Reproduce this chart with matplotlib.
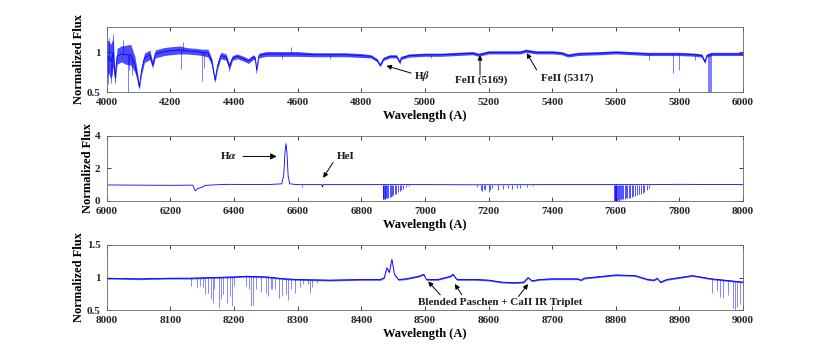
import numpy as np
import matplotlib
matplotlib.use("Agg")
import matplotlib.pyplot as plt

plt.rcParams['font.family'] = ['Liberation Serif', 'DejaVu Serif']
plt.rcParams['font.weight'] = 'bold'
plt.rcParams['mathtext.fontset'] = 'stix'

# ---- panel 1 : 4000-6000 A (wavelength, flux, half width of noise band)
wl1 = [4000, 4005, 4012, 4020, 4026, 4032, 4045, 4060, 4075, 4088, 4095, 4102, 4108,
       4118, 4135, 4144, 4152, 4180, 4200, 4230, 4250, 4280, 4300, 4318, 4330, 4340,
       4348, 4358, 4375, 4385, 4395, 4410, 4430, 4445, 4460, 4466, 4471, 4478, 4500,
       4550, 4600, 4650, 4700, 4750, 4800, 4830, 4850, 4858, 4862, 4870, 4890, 4910,
       4918, 4921, 4925, 4950, 5000, 5050, 5100, 5150, 5169, 5200, 5250, 5300, 5317,
       5350, 5400, 5430, 5450, 5480, 5550, 5600, 5650, 5700, 5750, 5800, 5850, 5870,
       5880, 5886, 5900, 5950, 6000]
fx1 = [0.90, 0.95, 0.88, 1.00, 0.68, 0.95, 0.98, 0.97, 0.97, 0.85, 0.72, 0.56, 0.75,
       0.93, 0.97, 0.84, 0.98, 1.01, 1.02, 1.03, 1.02, 1.01, 1.00, 0.99, 0.88, 0.65,
       0.83, 0.96, 0.94, 0.82, 0.93, 0.95, 0.92, 0.89, 0.94, 0.93, 0.78, 0.96, 0.98,
       0.98, 0.98, 0.97, 0.97, 0.97, 0.96, 0.95, 0.90, 0.84, 0.86, 0.92, 0.95, 0.95,
       0.90, 0.87, 0.93, 0.96, 0.97, 0.97, 0.98, 0.99, 0.97, 1.00, 1.00, 1.00, 1.02,
       1.00, 1.00, 0.99, 0.96, 0.98, 0.99, 1.00, 0.99, 0.98, 0.98, 0.98, 0.97, 0.96,
       0.88, 0.96, 0.98, 0.98, 0.98]
sp1 = [0.25, 0.20, 0.22, 0.18, 0.06, 0.10, 0.10, 0.12, 0.13, 0.10, 0.06, 0.03, 0.05,
       0.06, 0.06, 0.04, 0.05, 0.05, 0.05, 0.05, 0.04, 0.04, 0.04, 0.05, 0.04, 0.03,
       0.04, 0.04, 0.04, 0.04, 0.03, 0.03, 0.03, 0.03, 0.03, 0.02, 0.02, 0.03, 0.03,
       0.03, 0.03, 0.025, 0.025, 0.025, 0.025, 0.02, 0.02, 0.02, 0.02, 0.02, 0.02, 0.02,
       0.02, 0.02, 0.02, 0.02, 0.02, 0.02, 0.02, 0.02, 0.02, 0.02, 0.02, 0.02, 0.02,
       0.02, 0.02, 0.02, 0.02, 0.02, 0.02, 0.02, 0.02, 0.02, 0.02, 0.02, 0.02, 0.02,
       0.02, 0.02, 0.02, 0.02, 0.02]
# narrow features: wavelength, extreme flux
ln1_wl = [4003, 4008, 4012, 4017, 4020, 4026, 4050, 4065, 4070, 4080, 4232, 4240, 4300,
          4306, 4385, 4470, 4580, 4550, 4703, 5018, 5705, 5780, 5797, 5850, 5891, 5893,
          5896, 5898]
ln1_fx = [0.60, 1.18, 0.62, 0.70, 1.23, 0.62, 1.16, 0.50, 0.78, 0.72, 0.79, 1.13, 0.64,
          0.80, 0.77, 0.74, 1.07, 0.92, 0.92, 0.93, 0.90, 0.74, 0.78, 0.90, 0.30, 0.30,
          0.30, 0.30]

# ---- panel 2 : 6000-8000 A
wl2 = [6000, 6200, 6270, 6278, 6285, 6300, 6310, 6380, 6500, 6550, 6556, 6560, 6563,
       6566, 6570, 6575, 6600, 6676, 6678, 6680, 6860, 7000, 7150, 7400, 7590, 7710,
       7800, 8000]
fx2 = [0.98, 0.96, 0.97, 0.62, 0.75, 0.85, 0.96, 1.02, 1.00, 1.05, 1.60, 3.00, 3.52,
       3.00, 1.50, 1.05, 1.00, 1.00, 0.85, 1.00, 1.00, 1.00, 0.99, 1.00, 1.00, 1.00,
       1.02, 1.00]
ln2_wl = [6867, 6869, 6871, 6873, 6875, 6878, 6882, 6885, 6889, 6892, 6896, 6900, 6905,
          6910, 6915, 6920, 6926, 6932, 6940, 6950, 7165, 7175, 7180, 7185, 7190, 7200,
          7205, 7212, 7230, 7245, 7260, 7275, 7290, 7300, 7320, 7340, 7594, 7596, 7598,
          7600, 7602, 7604, 7606, 7609, 7612, 7616, 7620, 7624, 7628, 7632, 7636, 7640,
          7645, 7650, 7655, 7660, 7666, 7672, 7678, 7684, 7690, 7697, 7705, 6614]
ln2_fx = [0.10, 0.10, 0.10, 0.12, 0.12, 0.15, 0.15, 0.20, 0.22, 0.25, 0.30, 0.35, 0.40,
          0.45, 0.55, 0.60, 0.70, 0.75, 0.85, 0.90, 0.85, 0.70, 0.60, 0.75, 0.70, 0.55,
          0.70, 0.80, 0.70, 0.75, 0.80, 0.75, 0.80, 0.80, 0.85, 0.90, 0.00, 0.00, 0.00,
          0.00, 0.00, 0.02, 0.05, 0.00, 0.10, 0.05, 0.10, 0.10, 0.10, 0.15, 0.15, 0.20,
          0.20, 0.25, 0.30, 0.30, 0.35, 0.40, 0.45, 0.50, 0.55, 0.65, 0.80, 0.85]

# ---- panel 3 : 8000-9000 A
wl3 = [8000, 8050, 8100, 8130, 8200, 8220, 8250, 8280, 8300, 8350, 8400, 8430, 8436,
       8440, 8444, 8448, 8452, 8458, 8470, 8490, 8498, 8502, 8520, 8540, 8544, 8550,
       8580, 8600, 8620, 8640, 8655, 8662, 8668, 8680, 8700, 8740, 8745, 8750, 8800,
       8830, 8850, 8860, 8865, 8870, 8880, 8900, 8920, 8950, 8970, 8990, 9000]
fx3 = [0.99, 0.98, 0.99, 0.99, 1.01, 1.02, 1.01, 0.98, 0.97, 0.96, 0.97, 0.97, 1.00,
       1.15, 1.08, 1.28, 1.05, 0.97, 0.98, 1.02, 1.05, 0.97, 0.97, 1.02, 1.05, 0.97,
       0.97, 0.96, 0.93, 0.92, 0.93, 1.00, 0.95, 0.97, 0.98, 0.98, 0.96, 0.99, 1.04,
       1.03, 0.97, 0.96, 0.99, 0.93, 0.97, 1.00, 1.03, 0.98, 0.96, 0.94, 0.93]
ln3_wl = [8133, 8141, 8146, 8151, 8155, 8159, 8163, 8167, 8169, 8176, 8180, 8183, 8189,
          8193, 8197, 8200, 8219, 8224, 8227, 8229, 8234, 8242, 8250, 8254, 8258, 8260,
          8265, 8271, 8276, 8281, 8285, 8289, 8295, 8303, 8308, 8316, 8320, 8322, 8331,
          8951, 8959, 8964, 8969, 8977, 8984, 8987, 8990, 8995]
ln3_fx = [0.87, 0.85, 0.87, 0.85, 0.74, 0.76, 0.67, 0.61, 0.83, 0.53, 0.67, 0.74, 0.61,
          0.72, 0.56, 0.87, 0.87, 0.82, 0.56, 0.58, 0.82, 0.78, 0.76, 0.72, 0.82, 0.82,
          0.82, 0.69, 0.72, 0.74, 0.66, 0.82, 0.77, 0.85, 0.90, 0.90, 0.77, 0.85, 0.92,
          0.76, 0.80, 0.70, 0.68, 0.73, 0.53, 0.50, 0.55, 0.60]

blue = (0, 0, 1)
fig = plt.figure(figsize=(8.22, 3.64), dpi=100)


def panel(rect, wl, fx, lwl, lfx, xlim, ylim, yticks, spread=None, lalpha=0.8):
    ax = fig.add_axes(rect)
    if spread is not None:
        lo = np.array(fx) - np.array(spread)
        hi = np.array(fx) + np.array(spread)
        ax.fill_between(wl, lo, hi, color=blue, lw=0, alpha=0.7)
    ax.plot(wl, fx, color=blue, lw=0.6)
    top = np.interp(lwl, wl, fx)
    ax.vlines(lwl, np.minimum(lfx, top), np.maximum(lfx, top), color=blue, lw=0.6,
              alpha=lalpha)
    ax.set_xlim(xlim)
    ax.set_ylim(ylim)
    ax.set_yticks(yticks)
    ax.set_yticklabels([f"{t:g}" for t in yticks])
    ax.tick_params(direction='in', top=True, right=True, length=3, width=0.6,
                   labelsize=8, colors='0.15', pad=4.5)
    for s in ax.spines.values():
        s.set_color('0.4')
        s.set_linewidth(0.6)
    ax.set_xlabel('Wavelength (A)', fontsize=9, fontweight='bold', labelpad=2)
    ax.set_ylabel('Normalized Flux', fontsize=9, fontweight='bold', labelpad=1)
    return ax


L, W, H = 0.130, 0.774, 0.179
ax1 = panel([L, 0.747, W, H], wl1, fx1, ln1_wl, ln1_fx, (4000, 6000), (0.5, 1.32),
            [0.5, 1], sp1, 0.6)
ax1.set_xticks(np.arange(4000, 6001, 200))
ax2 = panel([L, 0.448, W, H], wl2, fx2, ln2_wl, ln2_fx, (6000, 8000), (0, 4), [0, 2, 4])
ax2.set_xticks(np.arange(6000, 8001, 200))
ax3 = panel([L, 0.148, W, H], wl3, fx3, ln3_wl, ln3_fx, (8000, 9000), (0.5, 1.5),
            [0.5, 1, 1.5], [0.012] * len(wl3), 0.55)
ax3.set_xticks(np.arange(8000, 9001, 100))

arw = dict(arrowstyle='-|>', color='k', lw=0.7, mutation_scale=7, shrinkA=0, shrinkB=0)
kw = dict(fontsize=8, fontweight='bold', color='0.1')
ax1.annotate(r'H$\beta$', xy=(4879, 0.83), xytext=(4965, 0.70), ha='left', va='center',
             arrowprops=arw, **kw)
ax1.annotate('FeII (5169)', xy=(5173, 0.965), xytext=(5176, 0.645), ha='center',
             va='center', **kw)
ax1.annotate('', xy=(5173, 0.965), xytext=(5173, 0.72), arrowprops=arw)
ax1.annotate('FeII (5317)', xy=(5320, 0.99), xytext=(5446, 0.68), ha='center',
             va='center', **kw)
ax1.annotate('', xy=(5320, 0.99), xytext=(5351, 0.78), arrowprops=arw)

ax2.annotate(r'H$\alpha$', xy=(6381, 2.78), ha='center', va='center', **kw)
ax2.annotate('', xy=(6534, 2.73), xytext=(6428, 2.73),
             arrowprops=dict(arw, mutation_scale=9))
ax2.annotate('HeI', xy=(6752, 2.73), ha='center', va='center', **kw)
ax2.annotate('', xy=(6680, 1.42), xytext=(6711, 2.36), arrowprops=arw)

ax3.annotate('Blended Paschen + CaII IR Triplet', xy=(8618, 0.617), ha='center',
             va='center', **kw)
for x0, y0, x1, y1 in [(8524, 0.735, 8505, 0.94), (8558, 0.735, 8547, 0.90),
                       (8647, 0.71, 8662, 0.90)]:
    ax3.annotate('', xy=(x1, y1), xytext=(x0, y0), arrowprops=arw)

fig.savefig('out.png', dpi=100)
